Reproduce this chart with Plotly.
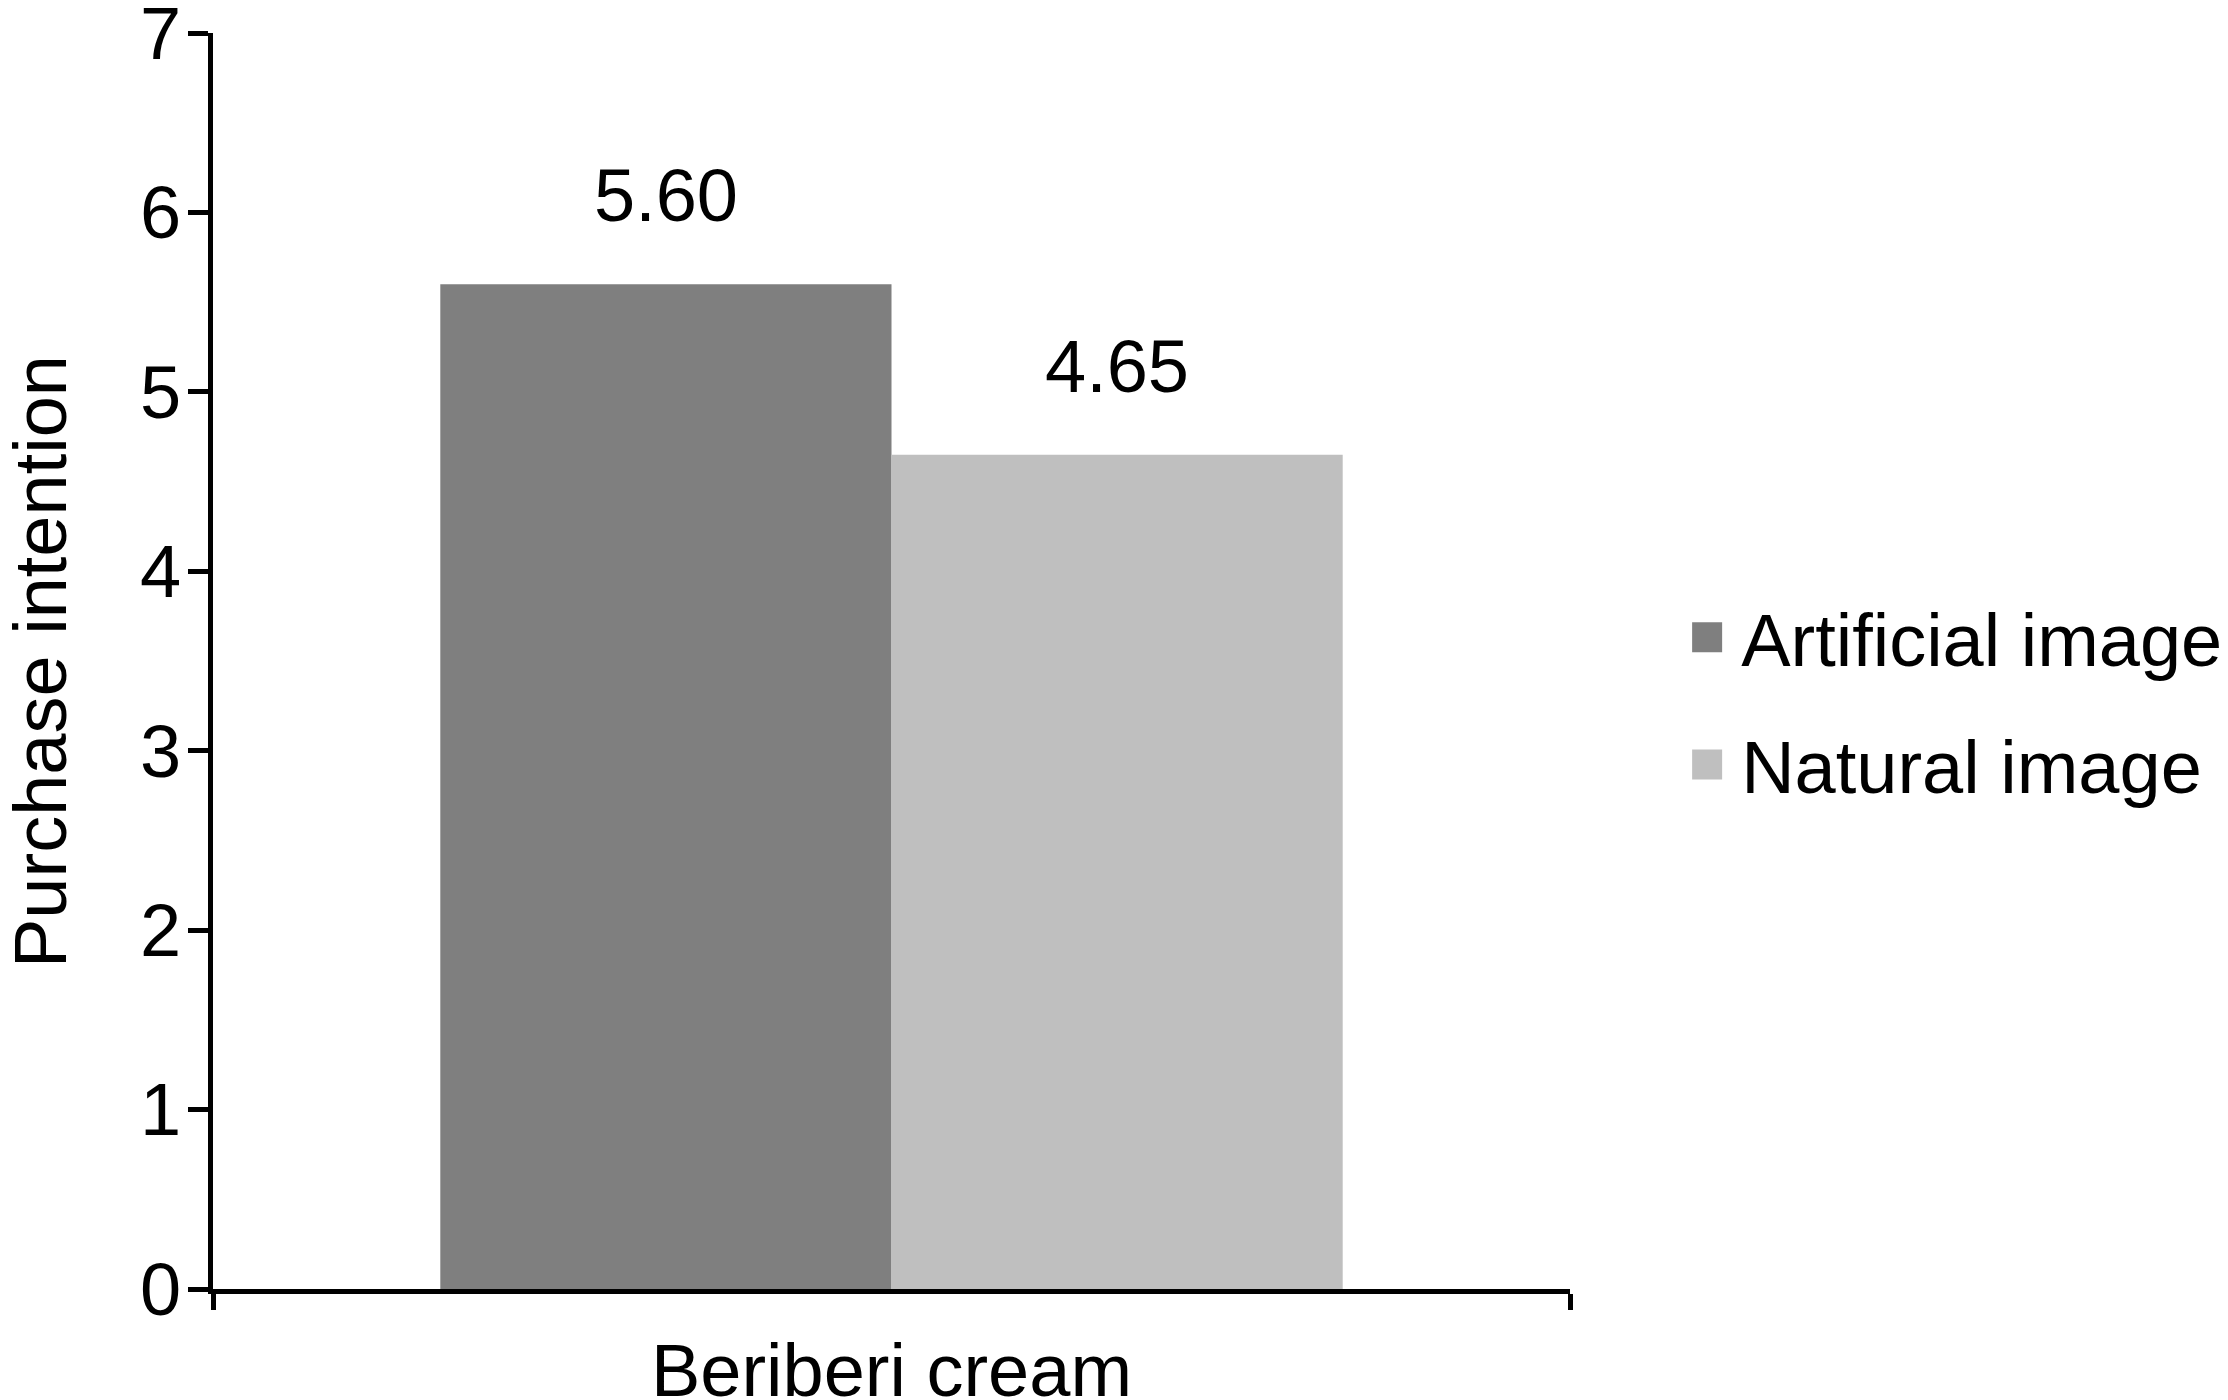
import plotly.graph_objects as go

# data
categories = ['Beriberi cream']
series_names = ['Artificial image', 'Natural image']
series_values = [[5.60], [4.65]]
series_colors = ['#7f7f7f', '#bfbfbf']
y_ticks = [0, 1, 2, 3, 4, 5, 6, 7]
y_title = 'Purchase intention'

W, H = 2228, 1400
ML, MR, MT, MB = 205, 666, 25, 119   # page body adds 8px on top/left
FONT = 'Liberation Sans, Arial, sans-serif'
FS = 74
BARGAP = 0.335

fig = go.Figure()
for name, vals, col in zip(series_names, series_values, series_colors):
    fig.add_trace(go.Bar(x=categories, y=vals, name=name, legendgroup=name,
                         marker=dict(color=col, line=dict(width=0))))

# value labels above the bars (offset inside the group comes from bargap)
plot_w = W - ML - MR
half = (1 - BARGAP) * plot_w / len(categories) / 4
shifts = [-half, half]
for vals, sh in zip(series_values, shifts):
    for c, v in zip(categories, vals):
        fig.add_annotation(x=c, y=v, xref='x', yref='y', text='%.2f' % v,
                           showarrow=False, xshift=sh, yshift=45,
                           yanchor='bottom', font=dict(size=FS, color='black'))

# y axis title, placed by hand so it can sit close to the page edge
fig.add_annotation(x=-0.1275, y=0.5, xref='paper', yref='paper',
                   text=y_title, textangle=-90, showarrow=False,
                   xanchor='center', yanchor='middle',
                   font=dict(size=FS, color='black'))

fig.update_layout(
    width=W, height=H,
    margin=dict(l=ML, r=MR, t=MT, b=MB, autoexpand=False),
    paper_bgcolor='white', plot_bgcolor='white',
    font=dict(family=FONT, size=FS, color='black'),
    barmode='group', bargap=BARGAP, bargroupgap=0,
    showlegend=True,
    legend=dict(x=1.076, xanchor='left', y=0.468, yanchor='middle',
                font=dict(size=FS), tracegroupgap=28, itemwidth=58,
                bgcolor='rgba(0,0,0,0)'),
    xaxis=dict(showline=True, linewidth=5, linecolor='black',
               ticks='outside', tickson='boundaries', ticklen=16,
               tickwidth=5, tickcolor='black', showgrid=False,
               ticklabelstandoff=13, automargin=False),
    yaxis=dict(range=[0, 7], tickvals=y_ticks, showline=True, linewidth=5,
               linecolor='black', ticks='outside', ticklen=20, tickwidth=5,
               tickcolor='black', showgrid=False, zeroline=False,
               ticklabeloverflow='allow', ticklabelstandoff=-8,
               automargin=False),
)

# bigger legend swatches, like the source picture
post = """
var gd = document.getElementById('{plot_id}');
function bigSwatch() {
  gd.querySelectorAll('g.legendpoints path').forEach(function(p){
    p.setAttribute('d','M15,15H-15V-15H15Z');
  });
}
bigSwatch();
gd.on('plotly_afterplot', bigSwatch);
setTimeout(bigSwatch, 100);
"""
fig.write_html('out.html', post_script=post)
